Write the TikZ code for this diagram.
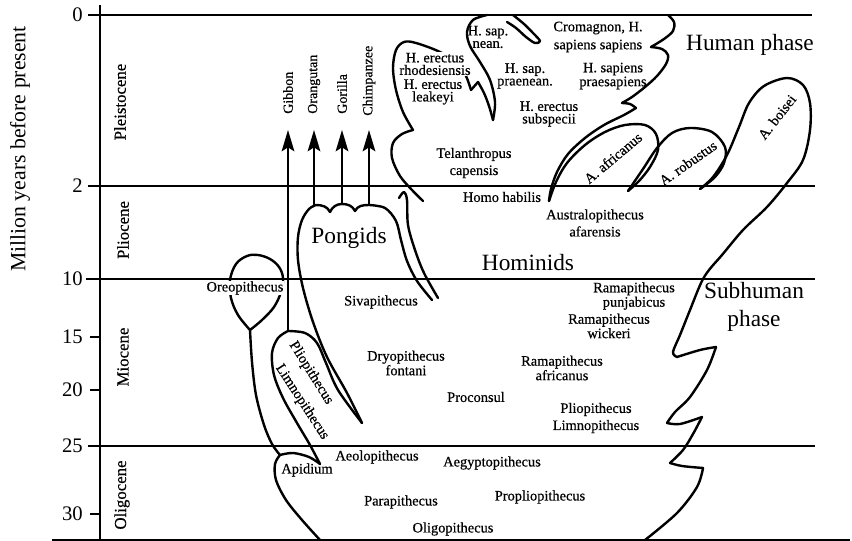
\documentclass[tikz,border=0pt]{standalone}
\usepackage{fontspec}
\setmainfont{Liberation Serif}
\newfontfamily\labfont[FakeBold=0.5]{Liberation Serif}
\usetikzlibrary{arrows.meta}
\begin{document}
\begin{tikzpicture}[x=0.75pt,y=-0.75pt,
  gridline/.style={line width=1pt},
  curve/.style={line width=1.8pt,line cap=round,line join=round},
  lab/.style={font=\labfont\fontsize{10.8}{9.4}\selectfont,align=center,inner sep=0.5pt},
  labw/.style={font=\labfont\fontsize{10.8}{12.8}\selectfont,align=center,inner sep=0.5pt},
  big/.style={font=\fontsize{17.5}{20}\selectfont,align=center,inner sep=0.5pt},
  epoch/.style={font=\labfont\fontsize{12.6}{14}\selectfont,rotate=90,inner sep=0pt},
  ticklab/.style={font=\fontsize{15.5}{17}\selectfont,anchor=east,inner sep=0pt},
  ape/.style={font=\labfont\fontsize{10.5}{11}\selectfont,rotate=90,anchor=west,inner sep=0pt},
  arr/.style={line width=1.5pt,-{Stealth[length=16pt,width=9.5pt,inset=3pt]}},
  wf/.style={fill=white}]
\useasboundingbox (0,0) rectangle (852,541);

% ---- axis and grid
\draw[gridline] (100,5) -- (100,540);
\draw[gridline] (88,15) -- (812,15);
\draw[gridline] (88,186) -- (815,186);
\draw[gridline] (86,279) -- (815,279);
\draw[gridline] (88,446) -- (815,446);
\draw[gridline] (52,540) -- (850,540);
\foreach \yy in {337,390,514} \draw[gridline] (90,\yy) -- (100,\yy);

\node[ticklab] (n0) at (83,15) {0};
\node[ticklab] (n2) at (83,186) {2};
\node[ticklab] (n10) at (83,279) {10};
\node[ticklab] (n15) at (83,337) {15};
\node[ticklab] (n20) at (83,390) {20};
\node[ticklab] (n25) at (83,446) {25};
\node[ticklab] (n30) at (83,514) {30};
\node[font=\fontsize{16.3}{18}\selectfont,rotate=90,inner sep=0pt] (ylab) at (20,149) {Million years before present};

\node[epoch] (pleist) at (120,102) {Pleistocene};
\node[epoch] (plio) at (123,230) {Pliocene};
\node[epoch] (mio) at (123,357) {Miocene};
\node[epoch] (oligo) at (122,495) {Oligocene};

% ---- arrows to living apes
\coordinate (gb0) at (288,331); \coordinate (gb1) at (288,130);
\coordinate (or0) at (314,206); \coordinate (or1) at (314,130);
\coordinate (go0) at (342,204); \coordinate (go1) at (342,130);
\coordinate (ch0) at (369,206); \coordinate (ch1) at (369,130);
\draw[arr] (gb0) -- (gb1);
\draw[arr] (or0) -- (or1);
\draw[arr] (go0) -- (go1);
\draw[arr] (ch0) -- (ch1);
\node[ape] (gibbon) at (288,114) {Gibbon};
\node[ape] (orang) at (314,114) {Orangutan};
\node[ape] (gorilla) at (342,114) {Gorilla};
\node[ape] (chimp) at (369,116) {Chimpanzee};

% ---- Pongids blob
\draw[curve] plot[smooth,tension=0.55] coordinates {(362,423) (347,393) (327,357) (313,322) (303,288) (298,260) (298,237) (302,220) (309,209) (316,205)};
\draw[curve] (316,205) to[out=0,in=115] (330,212) to[out=65,in=180] (342,204) to[out=0,in=115] (355,211) to[out=65,in=180] (369,205);
\draw[curve] plot[smooth,tension=0.55] coordinates {(369,205) (385,208) (396,221) (401,240) (407,261) (417,281) (432,300)};
% outer (hominid) line
\draw[curve] plot[smooth,tension=0.55] coordinates {(399,198) (404,192) (407,200) (408,225) (415,250) (424,273) (438,298)};

% ---- Pliopithecus / Limnopithecus loop
\draw[curve] plot[smooth,tension=0.55] coordinates {(288,331) (305,333) (317,343) (326,363) (338,390) (362,423)};
\draw[curve] plot[smooth,tension=0.55] coordinates {(288,331) (278,338) (272,353) (274,375) (283,398) (297,423) (310,445) (320,464)};

% ---- Oreopithecus bulb and stem, Apidium
\draw[curve] plot[smooth,tension=0.6] coordinates {(250,330) (238,315) (231,298) (230,280) (236,264) (247,256) (258,255) (270,259) (279,267) (283,278) (281,292) (274,307) (262,320) (250,330)};
\draw[curve] plot[smooth,tension=0.55] coordinates {(250,330) (252,362) (256,395) (264,425) (272,444) (280,455)};
\draw[curve] plot[smooth,tension=0.55] coordinates {(280,455) (275,464) (276,480) (286,500) (302,520) (320,540)};
\draw[curve] plot[smooth,tension=0.55] coordinates {(280,455) (293,453) (309,457) (320,464)};

% ---- H. erectus lobes
\draw[curve] plot[smooth,tension=0.55] coordinates {(423,201) (412,190) (400,176) (392,158) (393,143) (402,134) (413,130)};
\draw[curve] plot[smooth,tension=0.55] coordinates {(413,130) (403,112) (396,90) (393,68) (396,50) (404,42) (416,43) (440,52) (458,64) (466,76) (471,90)};
\draw[curve] (471,90) -- (478,82);
\draw[curve] plot[smooth,tension=0.55] coordinates {(478,82) (484,93) (489,106) (493,120)};
\draw[curve] plot[smooth,tension=0.55] coordinates {(493,120) (495,102) (490,80) (480,62) (470,46) (467,32) (473,20) (487,15)};
% H. sap. nean. hook
\draw[curve] plot[smooth,tension=0.55] coordinates {(513,15) (524,24) (533,33) (540,41) (535,43) (526,37) (516,28) (507,22)};

% ---- human phase boundary
\draw[curve] plot[smooth,tension=0.55] coordinates {(668,15) (674,22) (673,31) (664,39) (651,47)};
\draw[curve] plot[smooth,tension=0.55] coordinates {(651,47) (662,49) (668,55) (666,64) (657,76) (645,87) (632,97) (622,103)};
\draw[curve] plot[smooth,tension=0.55] coordinates {(622,103) (630,104) (636,108)};
\draw[curve] plot[smooth,tension=0.55] coordinates {(636,108) (624,115) (604,125) (585,138) (568,154) (557,172) (551,189) (549,201)};
% A. africanus
\draw[curve] plot[smooth,tension=0.55] coordinates {(549,201) (556,182) (567,163) (585,145) (605,132) (625,125) (645,125) (656,134) (658,150) (650,167) (639,181) (628,191)};
% A. robustus
\draw[curve] plot[smooth,tension=0.55] coordinates {(628,191) (643,169) (657,148) (672,133) (690,128) (712,132) (725,147) (724,163) (715,177) (700,189)};
% A. boisei and subhuman boundary
\draw[curve] plot[smooth,tension=0.55] coordinates {(700,189) (713,177) (727,155) (739,127) (749,103) (764,86) (787,78) (803,85) (810,103) (810,130) (803,160) (787,183) (767,207) (743,230) (722,255) (709,270) (701,283) (690,310) (680,335) (673,352) (677,357)};
\draw[curve] plot[smooth,tension=0.55] coordinates {(677,357) (700,350) (716,347)};
\draw[curve] plot[smooth,tension=0.55] coordinates {(716,347) (707,370) (690,397) (675,412) (667,423)};
\draw[curve] plot[smooth,tension=0.55] coordinates {(667,423) (680,424) (702,417)};
\draw[curve] plot[smooth,tension=0.55] coordinates {(702,417) (693,434) (683,450) (670,463)};
\draw[curve] plot[smooth,tension=0.55] coordinates {(670,463) (682,466) (703,468)};
\draw[curve] plot[smooth,tension=0.55] coordinates {(703,468) (697,487) (677,513) (645,540)};

% ---- labels
\node[lab,wf] (oreo) at (245,288) {Oreopithecus};
\node[lab] (siva) at (381,302) {Sivapithecus};
\node[lab] (dryo) at (406,363) {Dryopithecus\\fontani};
\node[lab] (procon) at (476,397) {Proconsul};
\node[lab] (aeolo) at (377,457) {Aeolopithecus};
\node[lab] (apid) at (307,470) {Apidium};
\node[lab] (aegy) at (492,463) {Aegyptopithecus};
\node[lab] (parap) at (401,502) {Parapithecus};
\node[lab] (propl) at (540,497) {Propliopithecus};
\node[lab] (oligp) at (453,529) {Oligopithecus};
\node[lab] (rpunj) at (634,296) {Ramapithecus\\punjabicus};
\node[lab] (rwick) at (609,326) {Ramapithecus\\wickeri};
\node[lab] (rafr) at (562,368) {Ramapithecus\\africanus};
\node[labw] (plimn) at (596,418) {Pliopithecus\\Limnopithecus};
\node[lab,rotate=-58] (pliolab) at (311,373) {Pliopithecus};
\node[lab,rotate=-57] (limnolab) at (302,402) {Limnopithecus};

\node[big] (pong) at (349,238) {Pongids};
\node[big] (homin) at (528,263) {Hominids};
\node[big] (human) at (750,45) {Human phase};
\node[font=\fontsize{17.5}{20.5}\selectfont,align=center,inner sep=0.5pt] (subh) at (754,307) {Subhuman\\phase};

\node[font=\labfont\fontsize{10.8}{13.5}\selectfont,align=center,inner sep=0.5pt] (crom) at (598,37) {Cromagnon, H.\\sapiens sapiens};
\node[lab] (praes) at (613,76) {H. sapiens\\praesapiens};
\node[lab] (nean) at (488,37) {H. sap.\\nean.};
\node[lab] (praen) at (525,76) {H. sap.\\praenean.};
\node[lab,wf] (rhod) at (435,64) {H. erectus\\rhodesiensis};
\node[lab,wf] (leak) at (433,92) {H. erectus\\leakeyi};
\node[lab] (subsp) at (549,114) {H. erectus\\subspecii};
\node[labw] (telan) at (474,163) {Telanthropus\\capensis};
\node[lab] (habil) at (502,197) {Homo habilis};
\node[labw] (afar) at (595,223) {Australopithecus\\afarensis};
\node[lab,rotate=40] (afric) at (613,158) {A. africanus};
\node[lab,rotate=35] (robus) at (688,163) {A. robustus};
\node[lab,rotate=52] (boise) at (777,117) {A. boisei};
\end{tikzpicture}
\end{document}
